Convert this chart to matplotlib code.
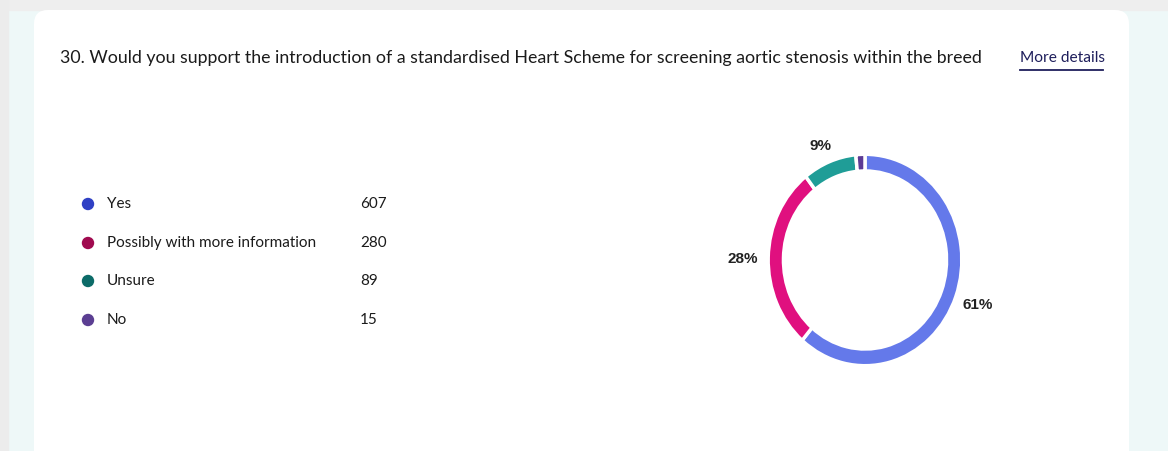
import matplotlib.pyplot as plt
from matplotlib.patches import FancyBboxPatch, Rectangle, Circle

# survey data
title = ("30. Would you support the introduction of a standardised Heart Scheme "
         "for screening aortic stenosis within the breed")
labels = ['Yes', 'Possibly with more information', 'Unsure', 'No']
counts = [607, 280, 89, 15]
pct_labels = ['61%', '28%', '9%', '']

wedge_colors = ['#6479ea', '#e0107f', '#1f9d97', '#5c3a94']
edge_colors = ['#3b40b8', '#a10c5d', '#11716d', '#3e2570']
dot_colors = ['#2f40c4', '#a00a4f', '#0c6b68', '#5b3e92']

W, H = 1168, 451
fig = plt.figure(figsize=(W / 100, H / 100), dpi=100)

# background axes in pixel coordinates
bg = fig.add_axes([0, 0, 1, 1])
bg.set_xlim(0, W)
bg.set_ylim(H, 0)
bg.axis('off')
bg.add_patch(Rectangle((0, 0), W, H, color='#eef8f8', zorder=0))
bg.add_patch(Rectangle((0, 0), W, 10, color='#eeeeee', zorder=0))
bg.add_patch(Rectangle((0, 0), 8, H, color='#ececec', zorder=0))
bg.add_patch(FancyBboxPatch((34, 10), 1095, 460, boxstyle='round,pad=0,rounding_size=14',
                            fc='white', ec='none', zorder=1))

bg.text(60, 58, title, fontsize=12.8, family='Lato', color='#1b1b1b',
        va='center', ha='left', zorder=2)
bg.text(1020, 58, 'More details', fontsize=11.2, family='Lato', color='#1f1f5c',
        va='center', ha='left', zorder=2)
bg.plot([1020, 1103], [70, 70], color='#1f1f5c', lw=1.3, zorder=2)

rows_y = [204, 243, 281, 320]
for lab, n, c, y in zip(labels, counts, dot_colors, rows_y):
    bg.add_patch(Circle((88, y), 6.2, fc=c, ec='none', zorder=2))
    bg.text(107, y, lab, fontsize=11, family='Lato', color='#1b1b1b',
            va='center', ha='left', zorder=2)
    bg.text(360, y, str(n), fontsize=11, family='Lato', color='#1b1b1b',
            va='center', ha='left', zorder=2)

# donut chart
cx, cy, rx, ry = 865, 260, 98, 107
ax = fig.add_axes([(cx - rx) / W, 1 - (cy + ry) / H, 2 * rx / W, 2 * ry / H])
# darker rim underneath, lighter band on top
ax.pie(counts, colors=edge_colors, startangle=90, counterclock=False,
       wedgeprops=dict(width=0.18, edgecolor='white', linewidth=2.5))
ax.pie(counts, colors=wedge_colors, startangle=90, counterclock=False, radius=0.988,
       wedgeprops=dict(width=0.156, edgecolor='white', linewidth=2.5))
ax.set_aspect('auto')
ax.set_xlim(-1, 1)
ax.set_ylim(-1, 1)
ax.axis('off')

pct_pos = [(978, 305), (743, 259), (821, 146)]
for t, (px, py) in zip(pct_labels, pct_pos):
    if t:
        bg.text(px, py, t, fontsize=11, family='Liberation Sans', weight='bold',
                color='#222222', ha='center', va='center', zorder=3)

fig.savefig('out.png', dpi=100)
